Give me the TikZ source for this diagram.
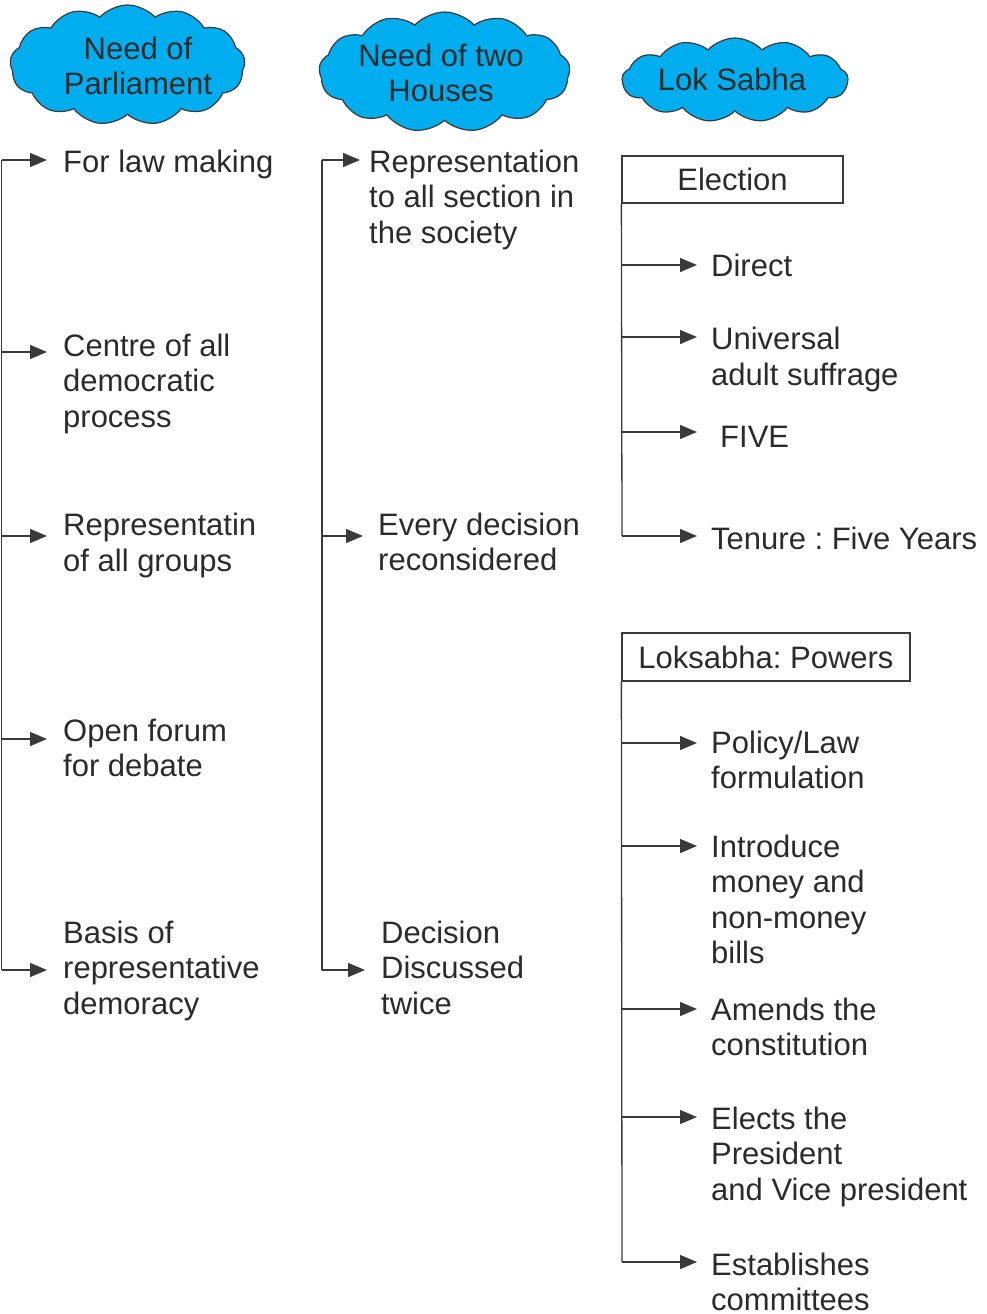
\documentclass[tikz,border=0pt]{standalone}
\usepackage{fontspec}
\setmainfont{Liberation Sans}
\frenchspacing
\usetikzlibrary{shapes.symbols,arrows.meta}
\definecolor{sky}{HTML}{00AEEF}
\definecolor{ink}{HTML}{2B2B2B}
\definecolor{lne}{HTML}{3A3A3A}
\tikzset{
  txt/.style={font=\fontsize{31}{35.5}\selectfont, text=ink, inner sep=0pt, anchor=base west, align=left},
  ctxt/.style={font=\fontsize{31}{35}\selectfont, text=ink, inner sep=0pt, align=center},
  puff/.style={cloud, cloud puffs=13, cloud puff arc=95, cloud ignores aspect, draw=lne, line width=1.2pt, fill=sky, inner sep=0pt},
  trunk/.style={draw=lne, line width=1.3pt},
  arr/.style={trunk, -{Triangle[length=17pt,width=14pt]}},
  hbox/.style={draw=lne, line width=1.3pt, inner sep=0pt, font=\fontsize{31}{35.5}\selectfont, text=ink}
}
\begin{document}
\begin{tikzpicture}[x=1pt,y=-1pt]
\useasboundingbox (0,0) rectangle (987,1314);

% clouds
\node[puff, minimum width=235pt, minimum height=120pt] (c1) at (127.5,65) {};
\node[ctxt] (c1t) at (138,66) {Need of\\Parliament};
\node[puff, minimum width=251pt, minimum height=120pt] (c2) at (444.5,72) {};
\node[ctxt] (c2t) at (441,73) {Need of two\\Houses};
\node[puff, minimum width=226pt, minimum height=84pt] (c3) at (735,80) {};
\node[ctxt] (c3t) at (732,79) {Lok Sabha};

% column 1 (anchor = baseline of the last line)
\node[txt] (a1) at (63,172) {For law making};
\node[txt] (a2) at (63,427) {Centre of all\\democratic\\process};
\node[txt] (a3) at (63,571) {Representatin\\of all groups};
\node[txt] (a4) at (63,776.5) {Open forum\\for debate};
\node[txt] (a5) at (63,1014) {Basis of\\representative\\demoracy};
\coordinate (p1) at (1.5,160); \coordinate (q1) at (47,160);
\coordinate (p2) at (1.5,352); \coordinate (q2) at (47,352);
\coordinate (p3) at (1.5,536); \coordinate (q3) at (47,536);
\coordinate (p4) at (1.5,739); \coordinate (q4) at (47,739);
\coordinate (p5) at (1.5,970); \coordinate (q5) at (47,970);
\draw[trunk] (p1) -- (p5);
\foreach \i in {1,...,5} \draw[arr] (p\i) -- (q\i);

% column 2
\node[txt] (b1) at (369,243) {Representation\\to all section in\\the society};
\node[txt] (b2) at (378,570.5) {Every decision\\reconsidered};
\node[txt] (b3) at (381,1014) {Decision\\Discussed\\twice};
\coordinate (r1) at (322,160); \coordinate (s1) at (360,160);
\coordinate (r2) at (322,536); \coordinate (s2) at (363,536);
\coordinate (r3) at (322,970); \coordinate (s3) at (365,970);
\draw[trunk] (r1) -- (r3);
\foreach \i in {1,2,3} \draw[arr] (r\i) -- (s\i);

% column 3 : election
\node[hbox, minimum width=221pt, minimum height=47pt] (el) at (732.5,179.5) {Election};
\node[txt] (e1) at (711,276) {Direct};
\node[txt] (e2) at (711,385) {Universal\\adult suffrage};
\node[txt] (e3) at (720,447) {FIVE};
\node[txt] (e4) at (711,549) {Tenure : Five Years};
\coordinate (u1) at (622,265); \coordinate (v1) at (697,265);
\coordinate (u2) at (622,337); \coordinate (v2) at (697,337);
\coordinate (u3) at (622,432); \coordinate (v3) at (697,432);
\coordinate (u4) at (622,536); \coordinate (v4) at (697,536);
\draw[trunk] (el.south west) -- (u4);
\foreach \i in {1,...,4} \draw[arr] (u\i) -- (v\i);

% column 3 : powers
\node[hbox, minimum width=288pt, minimum height=48pt] (pw) at (766,657) {Loksabha: Powers};
\node[txt] (f1) at (711,788.5) {Policy/Law\\formulation};
\node[txt] (f2) at (711,963.5) {Introduce\\money and\\non-money\\bills};
\node[txt] (f3) at (711,1055.5) {Amends the\\constitution};
\node[txt] (f4) at (711,1200) {Elects the\\President\\and Vice president};
\node[txt] (f5) at (711,1310.5) {Establishes\\committees};
\coordinate (g1) at (622,743);  \coordinate (h1) at (697,743);
\coordinate (g2) at (622,846);  \coordinate (h2) at (697,846);
\coordinate (g3) at (622,1009); \coordinate (h3) at (697,1009);
\coordinate (g4) at (622,1117); \coordinate (h4) at (697,1117);
\coordinate (g5) at (622,1262); \coordinate (h5) at (697,1262);
\draw[trunk] (pw.south west) -- (g5);
\foreach \i in {1,...,5} \draw[arr] (g\i) -- (h\i);
\end{tikzpicture}
\end{document}
